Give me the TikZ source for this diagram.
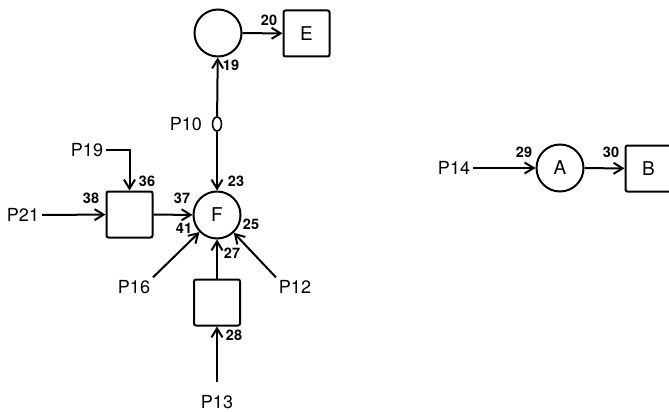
\documentclass[tikz,border=0pt]{standalone}
\usepackage{fontspec}
\setmainfont{TeX Gyre Heros}
\usetikzlibrary{arrows.meta,shapes.geometric}
\begin{document}
\begin{tikzpicture}[x=1pt,y=-1pt,
  line width=2pt,
  arr/.style={-{Straight Barb[length=9pt,width=11pt,line width=2pt]}},
  place/.style={circle,draw,minimum size=47pt,inner sep=0pt,font=\fontsize{19}{19}\selectfont},
  stepbox/.style={rectangle,draw,rounded corners=2pt,minimum size=46pt,inner sep=0pt,font=\fontsize{19}{19}\selectfont},
  plabel/.style={inner sep=2pt,font=\fontsize{18}{18}\selectfont},
  num/.style={inner sep=0pt,font=\bfseries\fontsize{14.5}{14.5}\selectfont},
  tiny/.style={ellipse,draw,minimum width=9pt,minimum height=14pt,inner sep=0pt,line width=1.6pt}]
\useasboundingbox (0,0) rectangle (669,412);
% nodes
\node[place] (c1) at (218,33) {};
\node[stepbox] (E) at (306.5,33.5) {E};
\node[tiny] (v10) at (217,124) {};
\node[plabel,anchor=east] (p10) at (205,124) {P10};
\node[place] (F) at (217,215) {F};
\node[stepbox] (b1) at (129.5,214.5) {};
\node[stepbox] (b2) at (217,302.5) {};
\node[plabel] (p21) at (23,215) {P21};
\node[plabel] (p19) at (87,150) {P19};
\node[plabel] (p16) at (134,287) {P16};
\node[plabel] (p12) at (295,287) {P12};
\node[plabel] (p13) at (217,402) {P13};
\node[plabel] (p14) at (454,168) {P14};
\node[place] (A) at (560,168) {A};
\node[stepbox] (B) at (648.5,168.5) {B};
% connectors
\draw[arr] (c1) -- (E);
\draw[arr] (v10) -- (c1);
\draw[arr] (v10) -- (F);
\draw[arr] (p21) -- (b1);
\draw[arr] (p19) -| (b1);
\draw[arr] (b1) -- (F);
\draw[arr] (p16.north east) -- (F);
\draw[arr] (p12.north west) -- (F);
\draw[arr] (b2) -- (F);
\draw[arr,shorten <=10pt] (p13) -- (b2);
\draw[arr] (p14) -- (A);
\draw[arr] (A) -- (B);
% numbers
\node[num] (n20) at (269,20) {20};
\node[num] (n19) at (231,65) {19};
\node[num] (n23) at (236,181) {23};
\node[num] (n37) at (182,198) {37};
\node[num] (n41) at (184,228) {41};
\node[num] (n25) at (251,224) {25};
\node[num] (n27) at (232,253) {27};
\node[num] (n28) at (234,335) {28};
\node[num] (n36) at (147,181) {36};
\node[num] (n38) at (91,198) {38};
\node[num] (n29) at (524,152) {29};
\node[num] (n30) at (611,152) {30};
\end{tikzpicture}
\end{document}
